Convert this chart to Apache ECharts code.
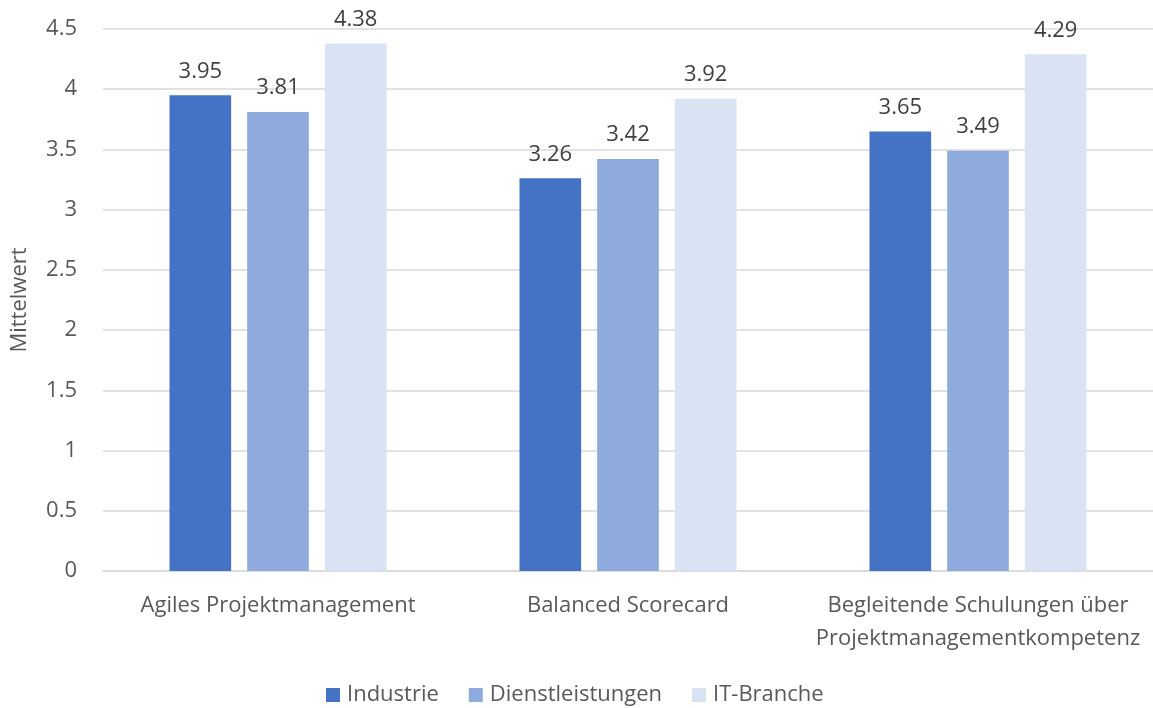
<!DOCTYPE html>
<html><head><meta charset="utf-8">
<script src="https://cdn.jsdelivr.net/npm/echarts@6/dist/echarts.min.js"></script>
<style>html,body{margin:0;padding:0;background:#fff}#c{width:1153px;height:708px}</style>
</head><body><div id="c"></div>
<script>
const categories = ['Agiles Projektmanagement', 'Balanced Scorecard', 'Begleitende Schulungen über\nProjektmanagementkompetenz'];
const seriesNames = ['Industrie', 'Dienstleistungen', 'IT-Branche'];
const industrie = [3.95, 3.26, 3.65];
const dienstleistungen = [3.81, 3.42, 3.49];
const itBranche = [4.38, 3.92, 4.29];
const colors = ['#4472C4', '#8FAADC', '#DAE3F3'];
const FONT = '"Open Sans", "Noto Sans", sans-serif';
const chart = echarts.init(document.getElementById('c'));
const values = [industrie, dienstleistungen, itBranche];
chart.setOption({
  animation: false,
  textStyle: { fontFamily: FONT },
  grid: { left: 103, right: -5, top: 29, bottom: 137 },
  legend: {
    data: seriesNames, bottom: -3, left: 321, itemWidth: 14, itemHeight: 14, itemGap: 30,
    icon: 'rect',
    textStyle: { fontSize: 22, color: '#595959', fontFamily: FONT, padding: [0, 0, 0, 2] }
  },
  xAxis: {
    type: 'category', data: categories,
    axisLine: { lineStyle: { color: '#D9D9D9', width: 1.5 } },
    axisTick: { show: false },
    axisLabel: { fontSize: 22, color: '#595959', lineHeight: 33, margin: 18, interval: 0, fontFamily: FONT }
  },
  yAxis: {
    type: 'value', min: 0, max: 4.5, interval: 0.5,
    name: 'Mittelwert', nameLocation: 'middle', nameGap: 72, nameRotate: 90,
    nameTextStyle: { fontSize: 22, color: '#595959', fontFamily: FONT },
    axisLine: { show: false }, axisTick: { show: false },
    splitLine: { lineStyle: { color: '#D9D9D9', width: 1.5 } },
    axisLabel: { fontSize: 22, color: '#595959', margin: 26, fontFamily: FONT }
  },
  series: seriesNames.map((n, i) => ({
    name: n, type: 'bar', data: values[i],
    barGap: '26%', barCategoryGap: '38%',
    itemStyle: { color: colors[i] },
    label: { show: true, position: 'top', distance: 13, fontSize: 22, color: '#404040', fontFamily: FONT }
  }))
});
</script></body></html>
